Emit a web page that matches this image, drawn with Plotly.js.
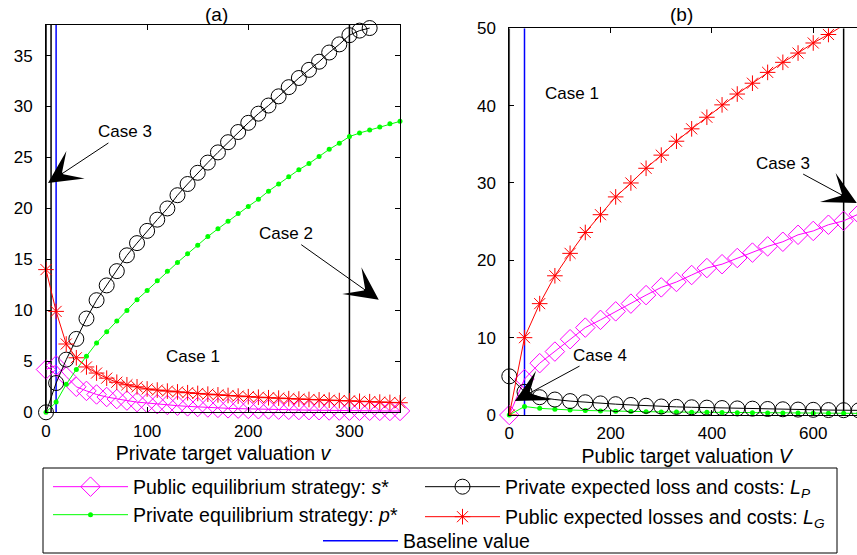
<!DOCTYPE html>
<html>
<head>
<meta charset="utf-8">
<script src="https://cdn.plot.ly/plotly-3.0.1.min.js"></script>
<style>
html,body{margin:0;padding:0;overflow:hidden;background:#fff;}
#chart{width:900px;height:555px;}
</style>
</head>
<body>
<div id="chart"></div>
<script>
// ---------- data: panel (a) ----------
var vA = [0,10,20,30,40,50,60,70,80,90,100,110,120,130,140,150,160,170,180,190,200,210,220,230,240,250,260,270,280,290,300,310,320,330,340,350];
var sA = [4.2,4.6,3.5,2.5,2.1,1.75,1.5,1.3,1.15,1.0,0.9,0.8,0.72,0.65,0.58,0.52,0.47,0.43,0.39,0.36,0.33,0.3,0.28,0.26,0.24,0.22,0.21,0.2,0.18,0.17,0.16,0.15,0.15,0.14,0.13,0.13];
var pA = [0,1.0,2.75,4.2,5.5,6.8,7.9,8.95,10.0,11.05,11.95,12.9,13.85,14.7,15.55,16.4,17.25,18.0,18.75,19.5,20.2,20.9,21.7,22.4,23.1,23.8,24.4,25.1,25.8,26.4,27.05,27.4,27.7,28.0,28.3,28.55];
var vAP = [0,10,20,30,40,50,60,70,80,90,100,110,120,130,140,150,160,170,180,190,200,210,220,230,240,250,260,270,280,290,300,310,320];
var LPa = [0,2.87,5.17,7.2,9.2,11.0,12.45,13.85,15.4,16.6,17.8,18.9,20.0,21.3,22.4,23.5,24.5,25.5,26.5,27.5,28.4,29.3,30.1,31.0,31.9,32.8,33.6,34.4,35.3,36.1,37.0,37.45,37.7];
var LGa = [14.0,9.9,6.7,5.35,4.45,3.85,3.35,2.95,2.7,2.5,2.29,2.18,2.08,2.0,1.92,1.85,1.78,1.71,1.65,1.59,1.53,1.48,1.43,1.39,1.34,1.3,1.26,1.22,1.19,1.15,1.12,1.08,1.04,1.0,0.97,0.94];
var caseLinesA = [0,5,300];
var baselineA = 10;

// ---------- data: panel (b) ----------
var VB = [0,30,60,90,120,150,180,210,240,270,300,330,360,390,420,450,480,510,540,570,600,630,660,690];
var sB = [0,4.65,6.7,8.2,9.8,11.3,12.3,13.4,14.4,15.5,16.5,17.2,18.1,19.0,19.5,20.3,21.0,21.8,22.4,23.3,23.8,24.6,25.1,26.0];
var pB = [0,1.1,0.86,0.73,0.65,0.58,0.53,0.49,0.46,0.43,0.4,0.38,0.36,0.34,0.32,0.3,0.29,0.27,0.26,0.25,0.24,0.23,0.22,0.21];
var LPb = [5.0,3.0,2.3,2.0,1.8,1.65,1.5,1.4,1.3,1.2,1.1,1.05,1.0,0.95,0.9,0.85,0.82,0.78,0.74,0.7,0.67,0.64,0.62,0.6];
var VBG = [0,30,60,90,120,150,180,210,240,270,300,330,360,390,420,450,480,510,540,570,600,630,660];
var LGb = [0,10.0,14.4,18.0,20.9,23.6,25.9,28.2,30.0,31.9,33.6,35.4,37.0,38.5,40.1,41.5,42.9,44.3,45.6,46.8,48.1,49.2,50.4];
var caseLinesB = [0,660];
var baselineB = 30;

// ---------- ticks & labels ----------
var xTicksA = [0,100,200,300];
var yTicksA = [0,5,10,15,20,25,30,35];
var xTicksB = [0,200,400,600];
var yTicksB = [0,10,20,30,40,50];
var yRangeA = [0,38], xRangeA = [0,350];
var yRangeB = [0,50], xRangeB = [0,700];

var names = {
  s: 'Public equilibrium strategy: <i>s</i>*',
  p: 'Private equilibrium strategy: <i>p</i>*',
  LP: 'Private expected loss and costs: <i>L</i><sub><i>P</i></sub>',
  LG: 'Public expected losses and costs: <i>L</i><sub><i>G</i></sub>',
  base: 'Baseline value'
};

var FONT = 'Liberation Sans, Arial, Helvetica, sans-serif';
var MAG = '#ff00ff', GRN = '#00ff00', RED = '#ff0000', BLU = '#0000ff';

var traces = [];
function vline(xv, yr, xa, ya, color, w, name, legend, show) {
  traces.push({x:[xv,xv], y:[yr[0], yr[1]], xaxis:xa, yaxis:ya, mode:'lines',
    line:{color:color, width:w}, name:name||'', legend:legend||'legend',
    showlegend:!!show, hoverinfo:'skip'});
}
caseLinesA.forEach(function(v){ vline(v, yRangeA, 'x', 'y', '#000', 1.5); });
caseLinesB.forEach(function(v){ vline(v, yRangeB, 'x2', 'y2', '#000', 1.5); });
vline(baselineA, yRangeA, 'x', 'y', BLU, 1.5, names.base, 'legend5', true);
vline(baselineB, yRangeB, 'x2', 'y2', BLU, 1.5, names.base, 'legend5', false);

function series(x, y, xa, ya, style, name, legend, show, clip) {
  var t = {x:x, y:y, xaxis:xa, yaxis:ya, mode:'lines+markers', name:name,
    legend:legend, showlegend:show, hoverinfo:'skip', cliponaxis:!!clip};
  for (var k in style) t[k] = style[k];
  traces.push(t);
}
var stS = {line:{color:MAG,width:1}, marker:{symbol:'diamond-open', size:15, color:MAG, line:{width:1, color:MAG}}};
var stP = {line:{color:GRN,width:1}, marker:{symbol:'circle', size:5, color:GRN}};
var stLP = {line:{color:'#000',width:1}, marker:{symbol:'circle-open', size:15, color:'#000', line:{width:1, color:'#000'}}};
var stLG = {line:{color:RED,width:1}, marker:{symbol:'asterisk-open', size:13, color:RED, line:{width:1, color:RED}}};

series(vA, sA, 'x', 'y', stS, names.s, 'legend', true);
series(vA, pA, 'x', 'y', stP, names.p, 'legend2', true);
series(vAP, LPa, 'x', 'y', stLP, names.LP, 'legend3', true);
series(vA, LGa, 'x', 'y', stLG, names.LG, 'legend4', true);

series(VB, sB, 'x2', 'y2', stS, names.s, 'legend', false);
series(VB, pB, 'x2', 'y2', stP, names.p, 'legend2', false);
series(VB, LPb, 'x2', 'y2', stLP, names.LP, 'legend3', false);
series(VBG, LGb, 'x2', 'y2', stLG, names.LG, 'legend4', false, true);

var W = 900, H = 555;
function px(x){ return x / W; }
function py(y){ return (H - y) / H; }

function axisBase(extra) {
  var a = {showline:true, linecolor:'#000', linewidth:1, mirror:'ticks', ticks:'inside',
    ticklen:5, tickcolor:'#000', tickwidth:1, showgrid:false, zeroline:false,
    tickfont:{family:FONT, size:17, color:'#000'}, automargin:false, fixedrange:true,
    tickmode:'array'};
  for (var k in extra) a[k] = extra[k];
  return a;
}

function leg(x, y) {
  return {x:px(x), y:py(y), xanchor:'left', yanchor:'middle', xref:'paper', yref:'paper',
    bgcolor:'rgba(0,0,0,0)', borderwidth:0, itemwidth:75,
    font:{family:FONT, size:19.5, color:'#000'}, tracegroupgap:0};
}

var annFont = {family:FONT, size:17, color:'#000'};
function arrow(xa, ya, x, y, ax, ay, text) {
  return {xref:xa, yref:ya, x:x, y:y, ax:ax, ay:ay, text:text, showarrow:true,
    arrowhead:3, arrowsize:5.5, arrowwidth:1, arrowcolor:'#000', standoff:0,
    font:annFont};
}
var axTitleFont = {family:FONT, size:19.5, color:'#000'};

var layout = {
  width:W, height:H, margin:{l:0, r:0, t:0, b:0, autoexpand:false},
  paper_bgcolor:'#fff', plot_bgcolor:'#fff',
  font:{family:FONT, color:'#000'},
  xaxis: axisBase({domain:[px(46), px(400)], range:xRangeA, tickvals:xTicksA, anchor:'y',
    ticklabelstandoff:3,
    title:{text:'Private target valuation <i>v</i>', font:axTitleFont, standoff:6}}),
  yaxis: axisBase({domain:[py(412.3), py(25)], range:yRangeA, tickvals:yTicksA, anchor:'x',
    ticklabelstandoff:9}),
  xaxis2: axisBase({domain:[px(509.3), px(863.9)], range:xRangeB, tickvals:xTicksB, anchor:'y2',
    ticklabelstandoff:3,
    title:{text:'Public target valuation <i>V</i>', font:axTitleFont, standoff:6}}),
  yaxis2: axisBase({domain:[py(415), py(28.3)], range:yRangeB, tickvals:yTicksB, anchor:'x2',
    ticklabelstandoff:9}),
  legend: leg(48, 487),
  legend2: leg(48, 515),
  legend3: leg(420, 487),
  legend4: leg(420, 517),
  legend5: leg(318, 541),
  shapes: [{type:'rect', xref:'paper', yref:'paper', x0:px(43), x1:px(837), y0:py(553), y1:py(468),
    line:{color:'#000', width:1}, fillcolor:'rgba(0,0,0,0)'}],
  annotations: [
    {xref:'paper', yref:'paper', x:px(216), y:py(14.5), xanchor:'center', yanchor:'middle',
      text:'(a)', showarrow:false, font:{family:FONT, size:19, color:'#000'}},
    {xref:'paper', yref:'paper', x:px(681), y:py(14.5), xanchor:'center', yanchor:'middle',
      text:'(b)', showarrow:false, font:{family:FONT, size:19, color:'#000'}},
    {xref:'x', yref:'y', x:145, y:5.5, text:'Case 1', showarrow:false, font:annFont},
    arrow('x', 'y', 2, 22.5, 77, -51, 'Case 3'),
    arrow('x', 'y', 329, 11.05, -93, -66, 'Case 2'),
    {xref:'x2', yref:'y2', x:123, y:41.6, text:'Case 1', showarrow:false, font:annFont},
    arrow('x2', 'y2', 686, 27.4, -74, -40, 'Case 3'),
    arrow('x2', 'y2', 11, 1.8, 85, -46, 'Case 4')
  ]
};

Plotly.newPlot('chart', traces, layout, {displayModeBar:false, staticPlot:true});
</script>
</body>
</html>
